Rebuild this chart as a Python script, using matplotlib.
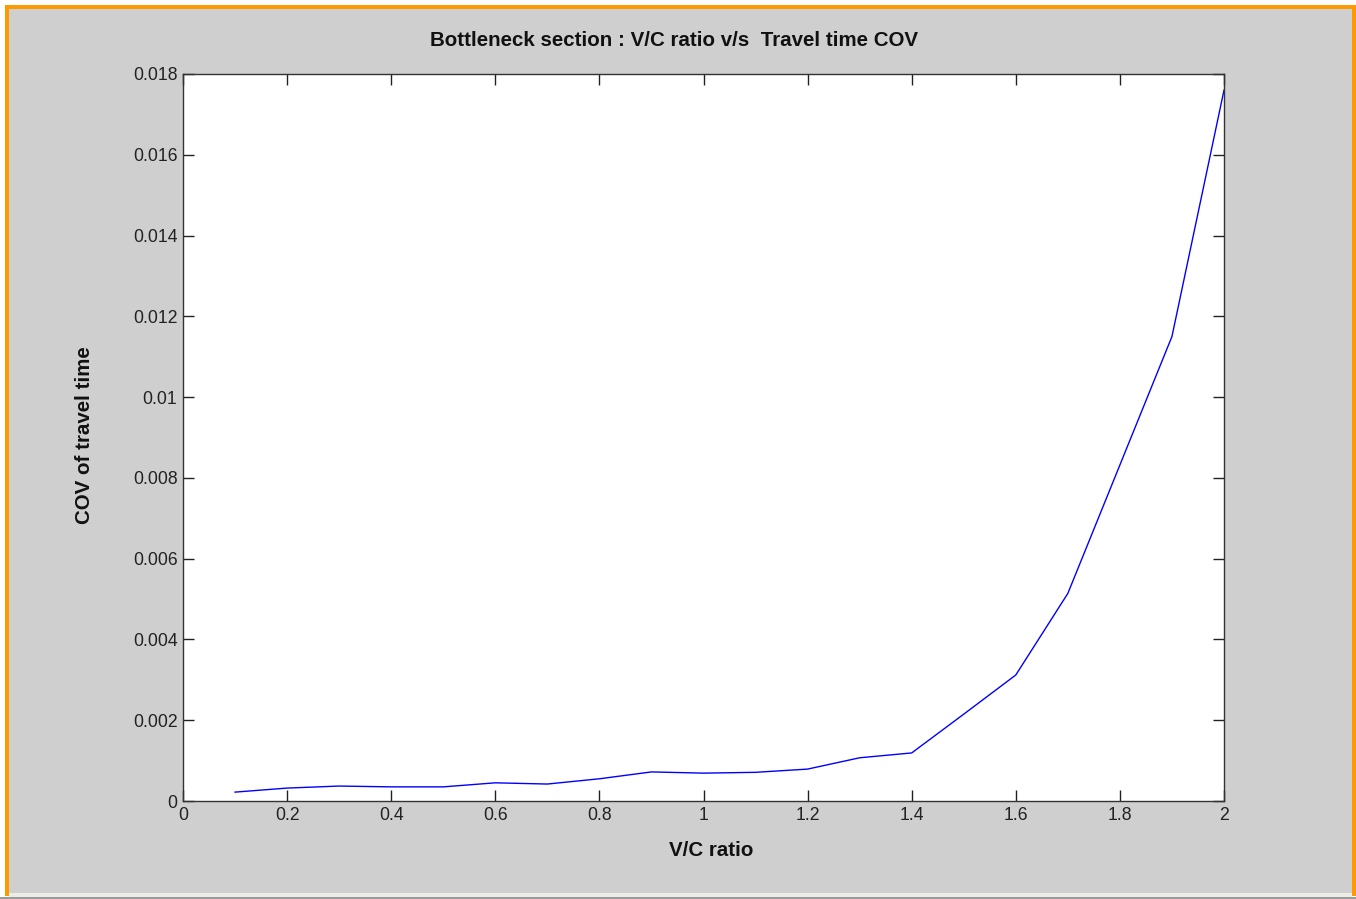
"""
Bottleneck section: V/C ratio vs travel time COV (MATLAB-style screenshot).
"""
import matplotlib.pyplot as plt
from matplotlib.patches import Rectangle

# data
vc_ratio = [0.1, 0.2, 0.3, 0.4, 0.5, 0.6, 0.7, 0.8, 0.9, 1.0,
            1.1, 1.2, 1.3, 1.4, 1.5, 1.6, 1.7, 1.8, 1.9, 2.0]
cov_travel = [0.00022, 0.00032, 0.00037, 0.00035, 0.00035, 0.00045, 0.00042,
              0.00055, 0.00072, 0.00069, 0.00071, 0.00079, 0.00107, 0.00119,
              0.00215, 0.00312, 0.00514, 0.00832, 0.01150, 0.01760]
x_ticks = [0, 0.2, 0.4, 0.6, 0.8, 1, 1.2, 1.4, 1.6, 1.8, 2]
x_tick_labels = ["0", "0.2", "0.4", "0.6", "0.8", "1", "1.2", "1.4", "1.6", "1.8", "2"]
y_ticks = [0, 0.002, 0.004, 0.006, 0.008, 0.010, 0.012, 0.014, 0.016, 0.018]
y_tick_labels = ["0", "0.002", "0.004", "0.006", "0.008", "0.01",
                 "0.012", "0.014", "0.016", "0.018"]

plt.rcParams["font.family"] = ["Liberation Sans", "DejaVu Sans"]

W, H = 1356, 899
fig = plt.figure(figsize=(W / 100, H / 100), dpi=100, facecolor="white")


def px_rect(x0, y0, x1, y1, color, z):
    # rectangle given in pixel coords, y measured from the top
    fig.patches.append(Rectangle((x0 / W, 1 - y1 / H), (x1 - x0) / W, (y1 - y0) / H,
                                 transform=fig.transFigure, facecolor=color,
                                 edgecolor="none", zorder=z))


# grey window, orange frame, bottom strip
px_rect(9, 9, 1352, 893, "#cfcfcf", -3)
px_rect(5, 5, 9, 896, "#ff9900", -2)
px_rect(5, 5, 1356, 9, "#ff9900", -2)
px_rect(1352, 5, 1356, 896, "#ff9900", -2)
px_rect(9, 893, 1352, 897, "#ecece6", -2)
px_rect(0, 897, 1356, 899, "#9a9a9a", -2)

ax = fig.add_axes([183 / W, (H - 801) / H, 1041 / W, 727 / H])
ax.plot(vc_ratio, cov_travel, color="#0000ff", linewidth=1.0)

ax.set_xlim(0, 2)
ax.set_ylim(0, 0.018)
ax.set_xticks(x_ticks)
ax.set_xticklabels(x_tick_labels)
ax.set_yticks(y_ticks)
ax.set_yticklabels(y_tick_labels)
ax.tick_params(direction="in", length=8, width=1, top=True, right=True,
               labelsize=12.7, colors="#222222", pad=4)
for s in ax.spines.values():
    s.set_color("#333333")
    s.set_linewidth(1.0)

fig.text(674 / W, 1 - 40 / H, "Bottleneck section : V/C ratio v/s  Travel time COV",
         ha="center", va="center", fontsize=14.8, fontweight="bold", color="#111111")
fig.text(711 / W, 1 - 851 / H, "V/C ratio", ha="center", va="center",
         fontsize=14.8, fontweight="bold", color="#111111")
fig.text(84 / W, 1 - 435 / H, "COV of travel time", ha="center", va="center",
         rotation=90, fontsize=14.8, fontweight="bold", color="#111111")

fig.savefig("out.png", dpi=100)
